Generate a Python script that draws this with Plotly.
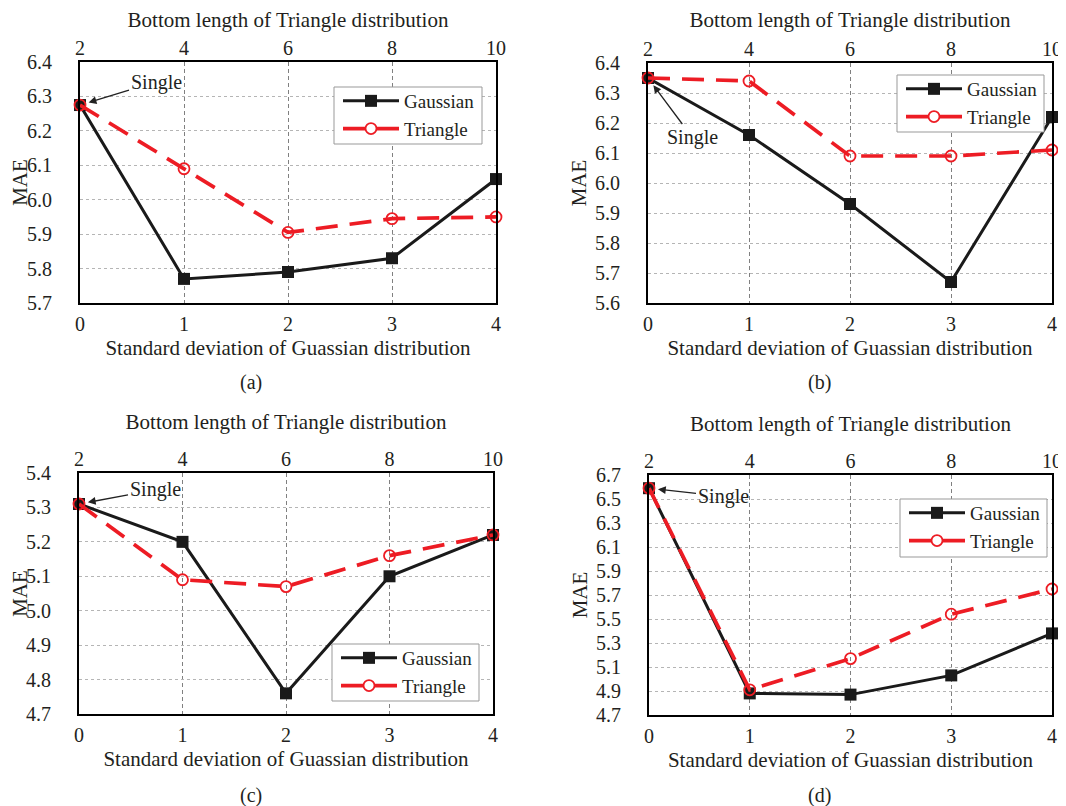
import plotly.graph_objects as go

x_std = [0, 1, 2, 3, 4]
top_ticks = [2, 4, 6, 8, 10]

gauss_a = [6.275, 5.77, 5.79, 5.83, 6.06]
tri_a = [6.275, 6.09, 5.905, 5.945, 5.95]
gauss_b = [6.35, 6.16, 5.93, 5.67, 6.22]
tri_b = [6.35, 6.34, 6.09, 6.09, 6.11]
gauss_c = [5.31, 5.20, 4.76, 5.10, 5.22]
tri_c = [5.31, 5.09, 5.07, 5.16, 5.22]
gauss_d = [6.59, 4.88, 4.87, 5.03, 5.38]
tri_d = [6.59, 4.91, 5.17, 5.54, 5.75]

panels = ["(a)", "(b)", "(c)", "(d)"]
y_ranges = [(5.7, 6.4, 0.1), (5.6, 6.4, 0.1), (4.7, 5.4, 0.1), (4.7, 6.7, 0.2)]
gauss_all = [gauss_a, gauss_b, gauss_c, gauss_d]
tri_all = [tri_a, tri_b, tri_c, tri_d]

# page body has an 8px margin; positions below are window pixels, converted with OFF
OFF = 8
W, H = 1058, 798


def px(sx):
    return (sx - OFF) / W


def py(sy):
    return 1 - (sy - OFF) / H


# plot-area boxes (window px): left, right, top, bottom
boxes = [(80, 496, 62, 303), (648, 1052, 63, 303), (79, 493, 473, 714), (649, 1052, 475, 715)]
legend_boxes = [(334, 482, 87, 144), (897, 1044, 75, 132), (332, 479, 644, 701), (900, 1047, 499, 557)]
single_off = [(76, -23), (44, 59), (76, -14), (74, 8)]
label_pos = [(251, 382), (819, 382), (251, 795), (819, 795)]

FONT = "Liberation Serif"
RED = "#ED1C24"
TXT = "#231f20"

fig = go.Figure()
layout = dict(
    width=W, height=H, template="none",
    margin=dict(l=0, r=0, t=0, b=0),
    paper_bgcolor="white", plot_bgcolor="white",
    font=dict(family=FONT, size=20, color=TXT),
    annotations=[], shapes=[],
)

for i in range(4):
    n = i + 1
    xs = "" if n == 1 else str(n)
    xa, ya = "x" + xs, "y" + xs
    top_id = n + 4
    l, r, t, b = boxes[i]
    xd = [px(l), px(r)]
    yd = [py(b), py(t)]
    y0, y1, dy = y_ranges[i]
    leg = "legend" if n == 1 else "legend%d" % n

    fig.add_trace(go.Scatter(
        x=x_std, y=gauss_all[i], name="Gaussian", mode="lines+markers",
        line=dict(color="#1a1a1a", width=3),
        marker=dict(symbol="square", size=12, color="#1a1a1a"),
        xaxis=xa, yaxis=ya, legend=leg, cliponaxis=False))
    fig.add_trace(go.Scatter(
        x=x_std, y=tri_all[i], name="Triangle", mode="lines+markers",
        line=dict(color=RED, width=3.7, dash="22px,12px"),
        marker=dict(symbol="circle-open", size=11, color=RED, line=dict(width=1.8)),
        xaxis=xa, yaxis=ya, legend=leg, cliponaxis=False))

    layout["xaxis" + xs] = dict(
        domain=xd, anchor=ya, range=[0, 4], tickvals=x_std,
        showline=True, linecolor="black", linewidth=2, mirror=True,
        showgrid=True, gridcolor="#808080", griddash="4px,3px", gridwidth=1,
        zeroline=False, ticks="", tickfont=dict(size=20, family=FONT),
        ticklabelstandoff=2,
        title=dict(text="Standard deviation of Guassian distribution",
                   font=dict(size=21, family=FONT), standoff=6),
    )
    layout["yaxis" + xs] = dict(
        domain=yd, anchor=xa, range=[y0, y1], dtick=dy, tick0=y0,
        tickformat=".1f",
        showline=True, linecolor="black", linewidth=2, mirror=True,
        showgrid=True, gridcolor="#b5b5b5", griddash="dot", gridwidth=1,
        zeroline=False, ticks="", tickfont=dict(size=20, family=FONT),
        ticklabelstandoff=22,
        title=dict(text="MAE", font=dict(size=21, family=FONT), standoff=3),
    )
    layout["xaxis%d" % top_id] = dict(
        overlaying=xa, anchor=ya, side="top", range=[2, 10], tickvals=top_ticks,
        showline=False, showgrid=False, zeroline=False, ticks="",
        tickfont=dict(size=20, family=FONT), ticklabelstandoff=2,
        title=dict(text="Bottom length of Triangle distribution",
                   font=dict(size=21, family=FONT), standoff=12),
    )
    fig.add_trace(go.Scatter(x=top_ticks, y=[None] * 5, xaxis="x%d" % top_id, yaxis=ya,
                             showlegend=False, hoverinfo="skip", mode="lines"))

    lx0, lx1, ly0, ly1 = legend_boxes[i]
    layout["shapes"].append(dict(
        type="rect", xref="paper", yref="paper", layer="above",
        x0=px(lx0), x1=px(lx1), y0=py(ly1), y1=py(ly0),
        fillcolor="white", line=dict(color="#999", width=1)))
    layout[leg] = dict(
        x=px(lx0 + 4), y=py(ly0 - 5), xanchor="left", yanchor="top",
        bgcolor="rgba(0,0,0,0)", borderwidth=0,
        font=dict(size=19, family=FONT, color=TXT),
        tracegroupgap=0, itemwidth=56,
    )

    axx, ayy = single_off[i]
    layout["annotations"].append(dict(
        x=0, y=gauss_all[i][0], xref=xa, yref=ya, text="Single",
        showarrow=True, arrowhead=2, arrowsize=1.2, arrowwidth=1.3, arrowcolor="#222",
        ax=axx, ay=ayy, standoff=9, font=dict(size=20, family=FONT, color=TXT)))
    sx, sy = label_pos[i]
    layout["annotations"].append(dict(
        x=px(sx), y=py(sy), xref="paper", yref="paper", text=panels[i],
        xanchor="center", yanchor="middle",
        showarrow=False, font=dict(size=20, family=FONT, color=TXT)))

fig.update_layout(**layout)
fig.write_html("out.html")
